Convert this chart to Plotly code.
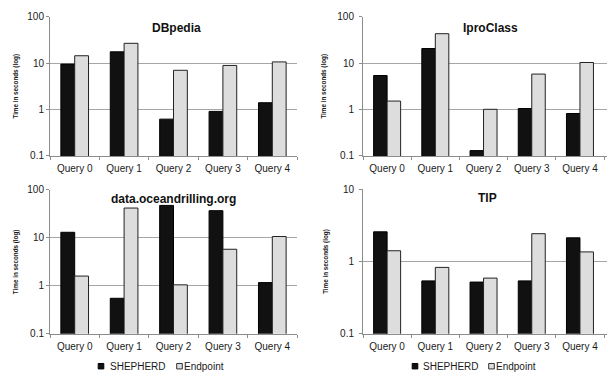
import plotly.graph_objects as go

queries = ["Query 0", "Query 1", "Query 2", "Query 3", "Query 4"]

dbpedia_shepherd = [9.5, 17.5, 0.62, 0.91, 1.4]
dbpedia_endpoint = [14.4, 26.7, 7.0, 8.9, 10.6]

iproclass_shepherd = [5.4, 20.6, 0.13, 1.05, 0.82]
iproclass_endpoint = [1.52, 43.0, 1.01, 5.8, 10.3]

ocean_shepherd = [13.1, 0.55, 47.7, 37.0, 1.17]
ocean_endpoint = [1.6, 42.0, 1.05, 5.8, 10.7]

tip_shepherd = [2.58, 0.54, 0.52, 0.54, 2.13]
tip_endpoint = [1.41, 0.83, 0.59, 2.43, 1.36]

series_names = ["SHEPHERD", "Endpoint"]
y_title = "Time in seconds (log)"

ticks_3dec = ["0.1", "1", "10", "100"]
ticks_2dec = ["0.1", "1", "10"]

panels = [
    ("DBpedia", dbpedia_shepherd, dbpedia_endpoint, ticks_3dec),
    ("IproClass", iproclass_shepherd, iproclass_endpoint, ticks_3dec),
    ("data.oceandrilling.org", ocean_shepherd, ocean_endpoint, ticks_3dec),
    ("TIP", tip_shepherd, tip_endpoint, ticks_2dec),
]

W, H = 607, 379
# pixel geometry of each panel: (left, right, top, bottom)
geom = [(50, 297, 12, 155), (363, 610, 12, 155), (50, 297, 190, 337.7), (363, 610, 189.3, 337.7)]
title_pos = [(176, 24), (490.5, 24), (173, 199), (487, 198.5)]
title_size = [12, 12, 12, 12]

FONT = "Liberation Sans, Arial, sans-serif"
TXT = "#1a1a1a"
DARK = "#111111"
LIGHT = "#dddddd"
AXIS = "#8c8c8c"
GRID = "#a6a6a6"

fig = go.Figure()
layout = {}
annotations = []
shapes = []
for i, (title, sh, ep, ttxt) in enumerate(panels):
    n = i + 1
    xa = "x" if n == 1 else f"x{n}"
    ya = "y" if n == 1 else f"y{n}"
    fig.add_trace(go.Bar(x=queries, y=sh, name=series_names[0], xaxis=xa, yaxis=ya,
                         marker=dict(color=DARK, line=dict(color="#000000", width=1)),
                         showlegend=False))
    fig.add_trace(go.Bar(x=queries, y=ep, name=series_names[1], xaxis=xa, yaxis=ya,
                         marker=dict(color=LIGHT, line=dict(color="#222222", width=1)),
                         showlegend=False))
    l, r, t, b = geom[i]
    tvals = [float(v) for v in ttxt]
    import math
    yr = [math.log10(tvals[0]), math.log10(tvals[-1])]
    xkey = "xaxis" if n == 1 else f"xaxis{n}"
    ykey = "yaxis" if n == 1 else f"yaxis{n}"
    layout[xkey] = dict(domain=[l / W, min(r / W, 1.0)], anchor=ya, type="category",
                        categoryorder="array", categoryarray=queries,
                        range=[-0.5, 4.5 + (max(r - W, 0) / ((r - l) / 5))] if r > W else None,
                        showline=True, linecolor=AXIS, linewidth=1,
                        ticks="outside", tickson="boundaries", ticklen=3, tickcolor=AXIS,
                        ticklabelstandoff=3,
                        tickfont=dict(size=10, color=TXT, family=FONT),
                        showgrid=False, zeroline=False)
    right_side = n in (2, 4)
    layout[ykey] = dict(domain=[1 - b / H, 1 - t / H], anchor=xa, type="log", range=yr,
                        tickvals=tvals, ticktext=ttxt,
                        showline=True, linecolor=AXIS, linewidth=1,
                        ticks="outside", ticklen=3, tickcolor=AXIS,
                        ticklabelstandoff=3 if right_side else 0,
                        tickfont=dict(size=10, color=TXT, family=FONT),
                        showgrid=True, gridcolor=GRID, gridwidth=1, zeroline=False,
                        title=dict(text=f"<b>{y_title}</b>", standoff=10 if right_side else 8,
                                   font=dict(size=6.3, color=TXT, family=FONT)))
    tx, ty = title_pos[i]
    annotations.append(dict(text=f"<b>{title}</b>", x=tx / W, y=1 - ty / H,
                            xref="paper", yref="paper", showarrow=False,
                            xanchor="center", yanchor="middle",
                            font=dict(size=title_size[i], color=DARK, family=FONT)))

# legends under the bottom panels (square key + label), in pixels
legend_rows = [
    [(101, 109), (179.5, 183)],
    [(415, 422), (491.5, 495)],
]
legend_y = 371
key_colors = [(DARK, "#000000"), (LIGHT, "#333333")]
for row in legend_rows:
    for k, (kx, tx) in enumerate(row):
        fill, line = key_colors[k]
        shapes.append(dict(type="rect", xref="paper", yref="paper",
                           x0=(kx - 2.8) / W, x1=(kx + 2.8) / W,
                           y0=1 - (legend_y + 2.8) / H, y1=1 - (legend_y - 2.8) / H,
                           fillcolor=fill, line=dict(color=line, width=1)))
        annotations.append(dict(text=series_names[k], x=tx / W, y=1 - legend_y / H,
                                xref="paper", yref="paper", showarrow=False,
                                xanchor="left", yanchor="middle", xshift=-1,
                                font=dict(size=10, color=TXT, family=FONT)))

fig.update_layout(
    **layout,
    width=W, height=H,
    margin=dict(l=0, r=0, t=0, b=0),
    paper_bgcolor="white", plot_bgcolor="white",
    barmode="group", bargap=0.44, bargroupgap=0,
    annotations=annotations,
    shapes=shapes,
    showlegend=False,
    font=dict(family=FONT, color=TXT),
)

fig.write_html("out.html", config={"displayModeBar": False},
               post_script="document.body.style.margin='0';document.body.style.overflow='hidden';")
